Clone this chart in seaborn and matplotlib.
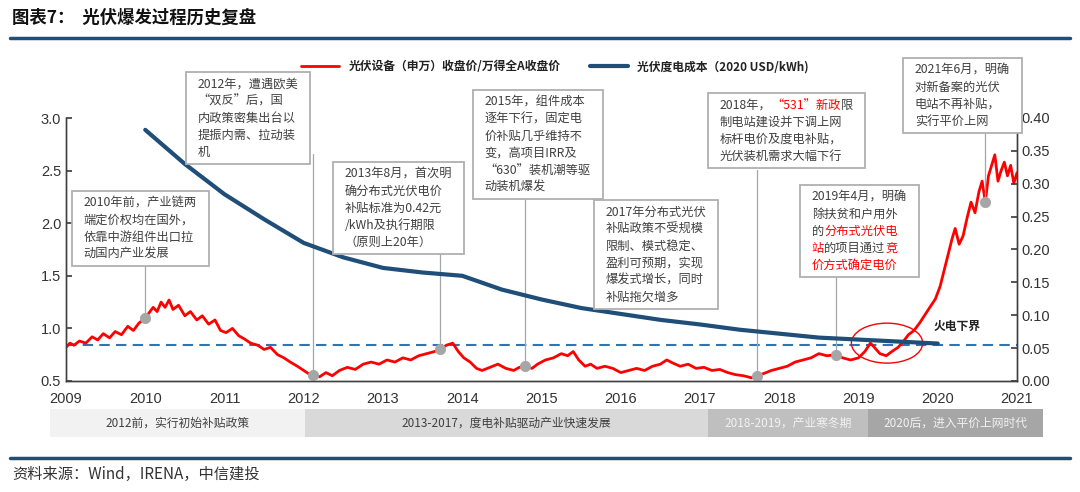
import numpy as np
import pandas as pd
import matplotlib
matplotlib.use("Agg")
import matplotlib.pyplot as plt
import seaborn as sns
from matplotlib.offsetbox import TextArea, VPacker, HPacker, AnnotationBbox, DrawingArea
from matplotlib.patches import Ellipse
from matplotlib.lines import Line2D

sns.set_theme(style="white")
plt.rcParams["font.family"] = ["Noto Sans CJK SC", "DejaVu Sans"]
plt.rcParams["axes.unicode_minus"] = False

# 光伏设备（申万）/万得全A  (decimal year, ratio)
red_t = [2009.00, 2009.05, 2009.10, 2009.17, 2009.25, 2009.33, 2009.40, 2009.47, 2009.55, 2009.62,
         2009.70, 2009.78, 2009.85, 2009.92, 2010.00, 2010.05, 2010.10, 2010.15, 2010.20, 2010.25,
         2010.30, 2010.35, 2010.42, 2010.50, 2010.57, 2010.65, 2010.72, 2010.80, 2010.88, 2010.95,
         2011.02, 2011.10, 2011.18, 2011.25, 2011.33, 2011.42, 2011.50, 2011.58, 2011.67, 2011.75,
         2011.83, 2011.92, 2012.00, 2012.06, 2012.12, 2012.20, 2012.28, 2012.36, 2012.45, 2012.55,
         2012.65, 2012.75, 2012.85, 2012.95, 2013.05, 2013.15, 2013.25, 2013.35, 2013.45, 2013.55,
         2013.65, 2013.72, 2013.80, 2013.88, 2013.95, 2014.02, 2014.10, 2014.18, 2014.25, 2014.35,
         2014.45, 2014.55, 2014.65, 2014.72, 2014.79, 2014.88, 2014.95, 2015.05, 2015.15, 2015.25,
         2015.33, 2015.40, 2015.47, 2015.55, 2015.62, 2015.70, 2015.80, 2015.90, 2016.00, 2016.10,
         2016.20, 2016.30, 2016.40, 2016.50, 2016.58, 2016.66, 2016.75, 2016.85, 2016.95, 2017.05,
         2017.15, 2017.25, 2017.35, 2017.45, 2017.55, 2017.65, 2017.72, 2017.80, 2017.90, 2018.00,
         2018.10, 2018.20, 2018.30, 2018.40, 2018.50, 2018.60, 2018.72, 2018.80, 2018.90, 2019.00,
         2019.08, 2019.15, 2019.20, 2019.27, 2019.35, 2019.42, 2019.50, 2019.57, 2019.63, 2019.70,
         2019.77, 2019.83, 2019.90, 2019.97, 2020.03, 2020.08, 2020.13, 2020.18, 2020.22, 2020.27,
         2020.32, 2020.37, 2020.42, 2020.47, 2020.52, 2020.56, 2020.60, 2020.64, 2020.68, 2020.72,
         2020.76, 2020.80, 2020.84, 2020.88, 2020.92, 2020.96, 2021.00, 2021.04, 2021.07]
red_v = [0.82, 0.86, 0.84, 0.88, 0.86, 0.92, 0.89, 0.95, 0.91, 0.97,
         0.94, 1.02, 0.98, 1.05, 1.10, 1.15, 1.20, 1.16, 1.25, 1.20,
         1.27, 1.18, 1.22, 1.12, 1.16, 1.08, 1.12, 1.04, 1.08, 0.98,
         0.96, 1.00, 0.93, 0.90, 0.86, 0.84, 0.80, 0.82, 0.75, 0.72,
         0.68, 0.64, 0.60, 0.57, 0.56, 0.54, 0.58, 0.55, 0.60, 0.63,
         0.61, 0.66, 0.68, 0.66, 0.70, 0.68, 0.72, 0.70, 0.74, 0.76,
         0.78, 0.80, 0.84, 0.86, 0.78, 0.72, 0.68, 0.62, 0.60, 0.63,
         0.66, 0.62, 0.60, 0.63, 0.64, 0.62, 0.66, 0.70, 0.72, 0.76,
         0.74, 0.78, 0.70, 0.64, 0.66, 0.62, 0.64, 0.62, 0.58, 0.60,
         0.62, 0.60, 0.64, 0.66, 0.70, 0.67, 0.64, 0.66, 0.62, 0.63,
         0.60, 0.61, 0.58, 0.56, 0.55, 0.53, 0.55, 0.57, 0.60, 0.62,
         0.64, 0.68, 0.70, 0.72, 0.76, 0.74, 0.75, 0.72, 0.70, 0.72,
         0.78, 0.86, 0.82, 0.76, 0.74, 0.78, 0.82, 0.88, 0.94, 0.98,
         1.05, 1.12, 1.20, 1.28, 1.40, 1.55, 1.70, 1.85, 1.95, 1.80,
         1.88, 2.05, 2.20, 2.10, 2.30, 2.40, 2.20, 2.45, 2.55, 2.65,
         2.40, 2.50, 2.58, 2.45, 2.55, 2.38, 2.48, 2.30, 2.40]

# 光伏度电成本 (2020 USD/kWh)
cost_t = [2010.0, 2010.5, 2011.0, 2011.5, 2012.0, 2012.5, 2013.0, 2013.5, 2014.0, 2014.5, 2015.0,
          2015.5, 2016.0, 2016.5, 2017.0, 2017.5, 2018.0, 2018.5, 2019.0, 2019.5, 2020.0]
cost_v = [0.382, 0.330, 0.284, 0.246, 0.210, 0.188, 0.172, 0.165, 0.160, 0.139, 0.124,
          0.111, 0.102, 0.093, 0.086, 0.078, 0.072, 0.066, 0.063, 0.060, 0.057]

coal_floor = 0.84

# grey markers on the red line for each note
mark_t = [2010.00, 2012.12, 2013.72, 2014.79, 2017.72, 2018.72, 2020.60]
mark_v = [1.10, 0.56, 0.80, 0.64, 0.55, 0.75, 2.20]
# top of each connector (bottom edge of the note box), left-axis units
link_top = [1.62, 2.66, 1.75, 2.35, 2.51, 1.51, 2.87]

notes = [
    ["2010年前，产业链两", "端定价权均在国外，", "依靠中游组件出口拉", "动国内产业发展"],
    ["2012年，遭遇欧美", "“双反”后，国", "内政策密集出台以", "提振内需、拉动装", "机"],
    ["2013年8月，首次明", "确分布式光伏电价", "补贴标准为0.42元", "/kWh及执行期限", "（原则上20年）"],
    ["2015年，组件成本", "逐年下行，固定电", "价补贴几乎维持不", "变，高项目IRR及", "“630”装机潮等驱", "动装机爆发"],
    ["2017年分布式光伏", "补贴政策不受规模", "限制、模式稳定、", "盈利可预期，实现", "爆发式增长，同时", "补贴拖欠增多"],
    ["2018年，*“531”新政*限", "制电站建设并下调上网", "标杆电价及度电补贴，", "光伏装机需求大幅下行"],
    ["2019年4月，明确", "除扶贫和户用外", "的*分布式光伏电*", "*站*的项目通过*竞*", "*价方式确定电价*"],
    ["2021年6月，明确", "对新备案的光伏", "电站不再补贴，", "实行平价上网"],
]
# top-left corner of each note box, figure pixels from top-left
note_xy = [(72, 191), (186, 72), (333, 162), (473, 90), (594, 200), (708, 93), (800, 185), (903, 58)]

periods = ["2012前，实行初始补贴政策", "2013-2017，度电补贴驱动产业快速发展",
           "2018-2019，产业寒冬期", "2020后，进入平价上网时代"]
period_start = [2008.80, 2012.02, 2017.10, 2019.12]
period_end = [2012.02, 2017.10, 2019.12, 2021.33]
period_fill = ["#f2f2f2", "#d9d9d9", "#bfbfbf", "#a6a6a6"]
period_text = ["#404040", "#404040", "#f2f2f2", "#f2f2f2"]

W, H = 1080, 492
RED = "#ff0000"
BLUE = "#1f4e79"
GREY_TXT = "#404040"
num_font = ["Liberation Sans Narrow", "Liberation Sans", "DejaVu Sans"]

fig = plt.figure(figsize=(W / 100, H / 100), dpi=100)
fig.patch.set_facecolor("white")
ax = fig.add_axes([66 / W, 1 - 381 / H, (1017 - 66) / W, (381 - 118) / H])
ax2 = ax.twinx()

df_red = pd.DataFrame({"t": red_t, "v": red_v})
df_cost = pd.DataFrame({"t": cost_t, "v": cost_v})
sns.lineplot(data=df_red, x="t", y="v", ax=ax, color=RED, lw=2, zorder=3)
sns.lineplot(data=df_cost, x="t", y="v", ax=ax2, color=BLUE, lw=3, zorder=2)

ax.axhline(coal_floor, color="#2e75b6", lw=1.5, ls=(0, (5, 3)), zorder=2)
ax.text(2019.95, 1.02, "火电下界", fontsize=8.5, fontweight="bold", color="#222222", va="center")

# connectors + markers
for t, v, top in zip(mark_t, mark_v, link_top):
    ax.plot([t, t], [v, top], color="#a6a6a6", lw=0.9, zorder=4, clip_on=False)
sns.scatterplot(x=mark_t, y=mark_v, ax=ax, color="#a6a6a6", s=55, edgecolor="#a6a6a6", zorder=5)

ax.add_patch(Ellipse((2019.36, 0.86), 0.9, 0.38, fill=False, edgecolor=RED, lw=1, zorder=6))

ax.set_xlim(2009, 2021)
ax.set_ylim(0.5, 3.0)
ax2.set_ylim(0, 0.40)
ax.set_xticks(range(2009, 2022))
ax.set_yticks([0.5, 1.0, 1.5, 2.0, 2.5, 3.0])
ax2.set_yticks([0.0, 0.05, 0.10, 0.15, 0.20, 0.25, 0.30, 0.35, 0.40])
ax.set_yticklabels([f"{v:.1f}" for v in ax.get_yticks()])
ax2.set_yticklabels([f"{v:.2f}" for v in ax2.get_yticks()])
ax.set_xlabel("")
ax.set_ylabel("")
ax2.set_ylabel("")
for a in (ax, ax2):
    a.spines["top"].set_visible(False)
    for s in ("left", "right", "bottom"):
        a.spines[s].set_color("#404040")
        a.spines[s].set_linewidth(1)
    a.tick_params(direction="in", length=4, colors="#404040", labelsize=10.5, labelcolor="#333333")
    for lab in a.get_xticklabels() + a.get_yticklabels():
        lab.set_fontfamily(num_font)
ax.tick_params(axis="x", pad=8)
ax.grid(False)
ax2.grid(False)
ax.set_facecolor("none")


def note_box(lines, xy):
    rows = []
    for line in lines:
        segs = line.split("*")
        parts = [TextArea(s, textprops=dict(color=RED if i % 2 else GREY_TXT, fontsize=8.8))
                 for i, s in enumerate(segs) if s]
        rows.append(HPacker(children=parts, align="baseline", pad=0, sep=0))
    body = VPacker(children=rows, align="left", pad=0, sep=2.9)
    body = HPacker(children=[DrawingArea(8.5, 1), body, DrawingArea(8.5, 1)], align="center", pad=0, sep=0)
    body = VPacker(children=[DrawingArea(1, 4), body, DrawingArea(1, 4)], align="left", pad=0, sep=0)
    ab = AnnotationBbox(body, (xy[0] / W, 1 - xy[1] / H), xycoords="figure fraction",
                        box_alignment=(0, 1), frameon=True, pad=0,
                        bboxprops=dict(edgecolor="#b0b0b0", lw=1.3, facecolor="white"),
                        annotation_clip=False, zorder=8)
    ax2.add_artist(ab)


for lines, xy in zip(notes, note_xy):
    note_box(lines, xy)

# legend above the plot
handles = [Line2D([], [], color=RED, lw=2), Line2D([], [], color=BLUE, lw=3)]
labels = ["光伏设备（申万）收盘价/万得全A收盘价", "光伏度电成本（2020 USD/kWh)"]
fig.legend(handles, labels, loc="center", bbox_to_anchor=(555 / W, 1 - 67 / H), ncol=2,
           frameon=False, handlelength=3.2, columnspacing=2.5,
           prop=dict(size=8.5, weight="bold"), labelcolor="#222222")

# period band
axb = fig.add_axes([50 / W, 1 - 437 / H, 993 / W, 28 / H])
widths = [e - s for s, e in zip(period_start, period_end)]
axb.barh(0, widths, left=period_start, height=1, color=period_fill, edgecolor="none")
for s, e, lab, c in zip(period_start, period_end, periods, period_text):
    axb.text((s + e) / 2, 0, lab, ha="center", va="center", fontsize=8.5, color=c)
axb.set_xlim(2008.80, 2021.33)
axb.set_ylim(-0.5, 0.5)
axb.axis("off")

# header / footer
fig.text(12 / W, 1 - 18 / H, "图表7：  光伏爆发过程历史复盘", fontsize=12.5, fontweight="bold",
         color="#111111", va="center", ha="left")
fig.add_artist(Line2D([10 / W, 1070 / W], [1 - 38 / H] * 2, color=BLUE, lw=2.5,
                      transform=fig.transFigure))
fig.add_artist(Line2D([10 / W, 1070 / W], [1 - 458 / H] * 2, color=BLUE, lw=2.5,
                      transform=fig.transFigure))
fig.text(12 / W, 1 - 474 / H, "资料来源：Wind，IRENA，中信建投", fontsize=11, style="italic",
         color="#333333", va="center", ha="left")

fig.savefig("out.png", dpi=100, facecolor="white")
